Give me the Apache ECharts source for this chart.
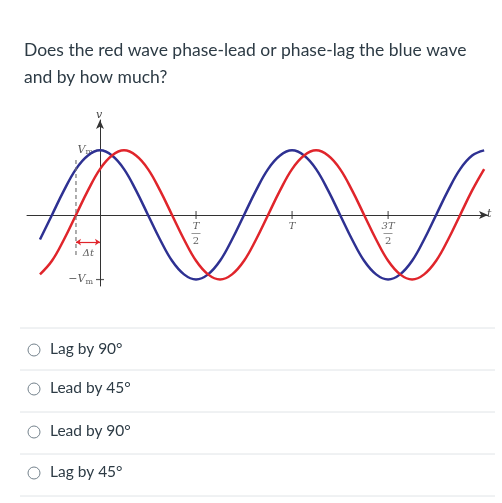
<!DOCTYPE html><html><head><meta charset="utf-8"><script src="https://cdn.jsdelivr.net/npm/echarts@6/dist/echarts.min.js"></script>
<style>html,body{margin:0;background:#fff}#c{width:502px;height:503px}</style></head><body><div id="c"></div><script>
const tValues=[-0.3125,-0.25,-0.1875,-0.125,-0.0625,0,0.0625,0.125,0.1875,0.25,0.3125,0.375,0.4375,0.5,0.5625,0.625,0.6875,0.75,0.8125,0.875,0.9375,1,1.0625,1.125,1.1875,1.25,1.3125,1.375,1.4375,1.5,1.5625,1.625,1.6875,1.75,1.8125,1.875,1.9375,2];
const blueValues=[-0.38,0,0.38,0.71,0.92,1,0.92,0.71,0.38,0,-0.38,-0.71,-0.92,-1,-0.92,-0.71,-0.38,0,0.38,0.71,0.92,1,0.92,0.71,0.38,0,-0.38,-0.71,-0.92,-1,-0.92,-0.71,-0.38,0,0.38,0.71,0.92,1];
const redValues=[-0.92,-0.71,-0.38,0,0.38,0.71,0.92,1,0.92,0.71,0.38,0,-0.38,-0.71,-0.92,-1,-0.92,-0.71,-0.38,0,0.38,0.71,0.92,1,0.92,0.71,0.38,0,-0.38,-0.71,-0.92,-1,-0.92,-0.71,-0.38,0,0.38,0.71];
const xTicks=[0.5,1,1.5];
const xTickLabels=['{n|T}\n{l|—}\n{d|2}','{n|T}','{n|3T}\n{l|—}\n{d|2}'];
const yTicks=[-1,1];
const yTickLabels=['{s|−}{v|V}{m|m}','{v|V}{m|m}'];
const question=['Does the red wave phase-lead or phase-lag the blue wave','and by how much?'];
const options=['Lag by 90°','Lead by 45°','Lead by 90°','Lag by 45°'];
const deltaT=-0.125;
const ch=echarts.init(document.getElementById('c'));
const g=[];
question.forEach((q,i)=>g.push({type:'text',left:24,top:41+i*27,style:{text:q,font:'17.5px Lato',fill:'#2d3b45'}}));
const optY=[350,389,432,473];
const sepY=[328,370,412,454,496];
sepY.forEach(y=>g.push({type:'line',shape:{x1:20,y1:y,x2:495,y2:y},style:{stroke:'#e0e4e7',lineWidth:1}}));
options.forEach((o,i)=>{g.push({type:'circle',shape:{cx:34,cy:optY[i],r:6},style:{fill:'#fff',stroke:'#73818b',lineWidth:1}});
g.push({type:'text',left:50,top:optY[i]-9,style:{text:o,font:'15.5px Lato',fill:'#2d3b45'}});});
g.push({type:'text',left:96,top:110,style:{text:'v',font:'italic 11px DejaVu Serif',fill:'#444'}});
g.push({type:'text',left:487,top:209,style:{text:'t',font:'italic 11px DejaVu Serif',fill:'#444'}});
const rich={n:{fontStyle:'italic',fontFamily:'DejaVu Serif',fontSize:10,color:'#333',lineHeight:9},l:{fontSize:9,color:'#333',lineHeight:5},d:{fontFamily:'DejaVu Serif',fontSize:10,color:'#333',lineHeight:10},v:{fontStyle:'italic',fontFamily:'DejaVu Serif',fontSize:11,color:'#333'},m:{fontFamily:'DejaVu Serif',fontSize:8,color:'#333',verticalAlign:'bottom',padding:[4,0,0,0]},s:{fontFamily:'DejaVu Serif',fontSize:11,color:'#333'}};
ch.setOption({animation:false,graphic:g,
grid:{left:27,right:14,top:120,bottom:217},
xAxis:{type:'value',min:-0.38,max:2.02,splitLine:{show:false},
axisLine:{onZero:true,symbol:['none','arrow'],symbolSize:[6,9],lineStyle:{color:'#333'}},
axisTick:{show:false},axisLabel:{show:false}},
yAxis:{type:'value',min:-1.1,max:1.47,splitLine:{show:false},
axisLine:{onZero:true,symbol:['none','arrow'],symbolSize:[6,9],lineStyle:{color:'#333'}},
axisTick:{show:false},axisLabel:{show:false}},
series:[
{type:'line',data:tValues.map((t,i)=>[t,blueValues[i]]),smooth:0.4,showSymbol:false,lineStyle:{color:'#2e3192',width:2.5}},
{type:'line',data:tValues.map((t,i)=>[t,redValues[i]]),smooth:0.4,showSymbol:false,lineStyle:{color:'#e0252b',width:2.5}},
{type:'line',data:[[deltaT,0.85],[deltaT,-0.62]],showSymbol:false,lineStyle:{color:'#777',width:1.2,type:[4,3]}},
{type:'line',data:[[deltaT,-0.42],[0,-0.42]],showSymbol:false,lineStyle:{width:0},
 markLine:{silent:true,symbol:['arrow','arrow'],symbolSize:5,label:{show:false},lineStyle:{color:'#e0252b',width:1.2,type:'solid'},data:[[{coord:[deltaT,-0.42]},{coord:[0,-0.42]}]]}},
{type:'scatter',data:[[-0.06,-0.6]],symbolSize:0,label:{show:true,position:'inside',formatter:'Δt',fontStyle:'italic',fontFamily:'DejaVu Serif',fontSize:10,color:'#333'}},
{type:'scatter',data:xTicks.map(v=>[v,0]),symbol:'rect',symbolSize:[1.2,8],itemStyle:{color:'#333'},
 label:{show:true,position:'bottom',distance:3,formatter:p=>xTickLabels[xTicks.indexOf(p.value[0])],rich:rich}},
{type:'scatter',data:yTicks.map(v=>[0,v]),symbol:'rect',symbolSize:[8,1.2],itemStyle:{color:'#333'},
 label:{show:true,position:'left',distance:3,formatter:p=>yTickLabels[yTicks.indexOf(p.value[1])],rich:rich}}
]});
</script></body></html>
